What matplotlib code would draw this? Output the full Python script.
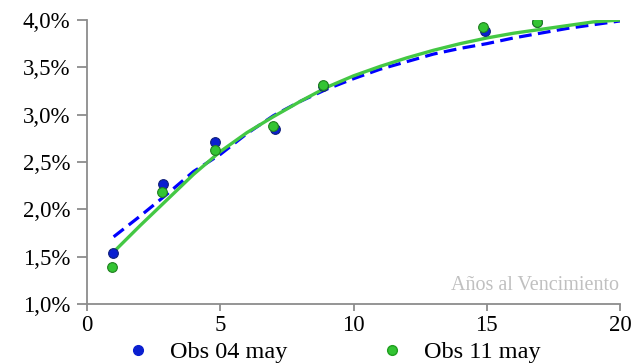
import matplotlib
matplotlib.use("Agg")
import matplotlib.pyplot as plt
from matplotlib.ticker import FuncFormatter
from matplotlib.lines import Line2D

# observed yields (%)
obs_x_04 = [0.99, 2.86, 4.80, 7.05, 8.87, 14.93, 16.9]
obs_y_04 = [1.54, 2.27, 2.71, 2.85, 3.30, 3.88, 3.98]
obs_x_11 = [0.93, 2.83, 4.80, 6.99, 8.87, 14.87, 16.9]
obs_y_11 = [1.39, 2.18, 2.63, 2.88, 3.31, 3.93, 3.98]

# fitted curves (%)
curve_x = [1, 2, 3, 4, 5, 6, 7, 8, 9, 10, 11, 12, 13, 14, 15, 16, 17, 18, 19, 20]
fit_04 = [1.71, 1.93, 2.16, 2.40, 2.58, 2.80, 2.99, 3.14, 3.27, 3.38,
          3.48, 3.56, 3.64, 3.70, 3.75, 3.81, 3.86, 3.91, 3.95, 3.99]
fit_11 = [1.55, 1.83, 2.10, 2.37, 2.61, 2.81, 2.98, 3.14, 3.29, 3.41,
          3.51, 3.60, 3.68, 3.75, 3.81, 3.86, 3.90, 3.94, 3.98, 4.00]

y_ticks = [1.0, 1.5, 2.0, 2.5, 3.0, 3.5, 4.0]
x_ticks = [0, 5, 10, 15, 20]

BLUE = "#0000ff"
GREEN = "#44c844"

plt.rcParams['font.family'] = ['Liberation Serif', 'DejaVu Serif']

fig = plt.figure(figsize=(6.36, 3.63), dpi=100)
ax = fig.add_axes([87 / 636, 59 / 363, 533 / 636, 284 / 363])

ax.plot(curve_x, fit_04, color=BLUE, lw=2.3, ls=(0, (4, 2)), zorder=2)
ax.plot(curve_x, fit_11, color=GREEN, lw=2.4, zorder=3)

ax.plot(obs_x_04, obs_y_04, 'o', ms=7, mfc="#0a1fd0", mec="#10207a",
        mew=0.8, zorder=4)
ax.plot(obs_x_11, obs_y_11, 'o', ms=7, mfc="#33c433", mec="#1f7f1f",
        mew=0.8, zorder=5)

ax.set_xlim(0, 20)
ax.set_ylim(1.0, 4.0)
ax.set_xticks(x_ticks)
ax.set_yticks(y_ticks)
ax.yaxis.set_major_formatter(FuncFormatter(lambda v, p: f"{v:.1f}%".replace(".", ",")))

for s in ["top", "right"]:
    ax.spines[s].set_visible(False)
for s in ["left", "bottom"]:
    ax.spines[s].set_color("#8c8c8c")
    ax.spines[s].set_linewidth(1.3)
ax.tick_params(axis="both", colors="#8c8c8c", width=1.3, labelsize=16.5,
               labelcolor="black")
ax.tick_params(axis="y", length=7, pad=5)
ax.tick_params(axis="x", length=5, pad=3)

ax.text(19.95, 1.1, "Años al Vencimiento", color="#c0c0c0", fontsize=14.5,
        ha="right", va="bottom")

handles = [
    Line2D([], [], ls="none", marker="o", ms=7, mfc="#0a1fd0", mec="#0a1fd0"),
    Line2D([], [], ls="none", marker="o", ms=7, mfc="#33c433", mec="#1f9f1f"),
]
fig.legend(handles, ["Obs 04 may", "Obs 11 may"], loc="center",
           bbox_to_anchor=(0.524, 0.03), ncol=2, frameon=False, fontsize=17.5,
           handlelength=1.0, handletextpad=0.8, columnspacing=3.8,
           borderpad=0.0)

fig.savefig("out.png", dpi=100)
